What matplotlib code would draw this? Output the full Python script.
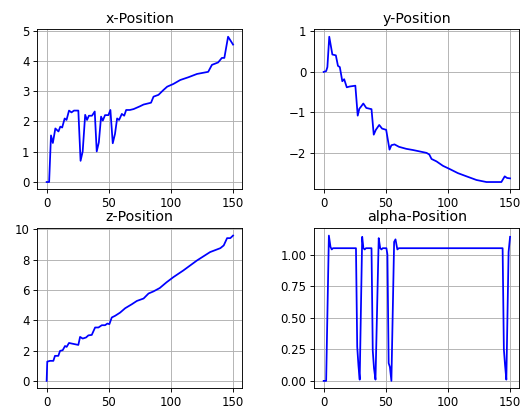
"""
plot.py

Four-panel trajectory figure: x-, y-, z- and alpha-position over time step.
"""

import matplotlib
matplotlib.use('Agg')
import matplotlib.pyplot as plt
import matplotlib.ticker as ticker


# ── data (breakpoints) ───────────────────────────────────────────────────────
x_t = [0, 2, 3.5, 5, 7, 9.5, 11, 12.5, 14.5, 16, 18, 20, 22, 25.5, 27.3, 29,
       31, 32.5, 34, 36.5, 38.7, 40.3, 42, 43.8, 45.2, 47, 49.7, 51.3, 53.2,
       55, 56.7, 58.3, 60.5, 62.4, 64, 67, 70, 75, 78, 84, 86, 90, 94, 97,
       102, 107.5, 114, 121, 130, 133, 138, 141, 143, 146, 150]
x_pos = [0, 0, 1.54, 1.29, 1.77, 1.67, 1.83, 1.8, 2.1, 2.05, 2.36, 2.3, 2.36,
         2.36, 0.7, 1.01, 2.22, 2.05, 2.19, 2.19, 2.33, 1.01, 1.31, 2.16, 2.03,
         2.21, 2.21, 2.38, 1.28, 1.59, 2.1, 2.05, 2.25, 2.19, 2.38, 2.38, 2.41,
         2.5, 2.56, 2.62, 2.82, 2.88, 3.04, 3.15, 3.24, 3.37, 3.46, 3.57, 3.64,
         3.87, 3.95, 4.1, 4.1, 4.8, 4.54]

y_t = [0, 2, 3, 4.5, 7, 9.8, 11.5, 13, 15, 16.5, 18.6, 21, 25.5, 27.4, 28.7,
       30, 31.9, 34.3, 38.5, 40.3, 42, 44.7, 47, 50.3, 53, 54.5, 57, 60.6,
       66.5, 72, 82.8, 85, 86.8, 90.8, 96, 101.5, 108, 115, 123, 131, 143,
       145.7, 147.6, 150]
y_pos = [0, 0.02, 0.12, 0.87, 0.43, 0.41, 0.15, 0.12, -0.23, -0.18, -0.38,
         -0.36, -0.34, -1.08, -0.91, -0.86, -0.78, -0.89, -0.92, -1.55, -1.43,
         -1.31, -1.4, -1.43, -1.92, -1.81, -1.79, -1.85, -1.9, -1.93, -2.0,
         -2.04, -2.15, -2.21, -2.32, -2.4, -2.5, -2.58, -2.67, -2.72, -2.72,
         -2.58, -2.62, -2.63]

z_t = [0, 0.5, 2.7, 5.4, 6.7, 9.4, 10.8, 12.9, 14.8, 16.1, 18, 20.2, 25.5,
       26.9, 29, 31.7, 33.6, 36.3, 39, 41.7, 44.4, 47, 48.9, 50.5, 52.4, 55.1,
       59.1, 63.2, 68.5, 72.6, 78, 82, 86, 91, 96.5, 102, 110, 121, 131.5,
       139.8, 142.5, 145.2, 147.8, 150]
z_pos = [0, 1.27, 1.32, 1.32, 1.65, 1.65, 1.98, 2.02, 2.3, 2.24, 2.5, 2.46,
         2.37, 2.9, 2.79, 2.86, 3.0, 3.03, 3.52, 3.52, 3.67, 3.67, 3.78, 3.74,
         4.18, 4.29, 4.5, 4.79, 5.05, 5.27, 5.43, 5.76, 5.9, 6.12, 6.5, 6.84,
         7.28, 7.94, 8.49, 8.75, 8.93, 9.41, 9.41, 9.58]

a_t = [0, 2, 4.2, 5.5, 6.5, 7.5, 26, 27, 28, 29, 31, 32, 33, 34, 38.5, 39.5,
       40.5, 41.7, 44.3, 45.5, 46.5, 47.5, 50.5, 51.3, 52.3, 53.3, 54.5, 56.7,
       57.8, 59.3, 60.5, 144, 145, 146, 147, 148.8, 150]
a_pos = [0, 0, 1.15, 1.06, 1.04, 1.05, 1.05, 0.27, 0.12, 0.01, 1.14, 1.05,
         1.04, 1.05, 1.05, 0.24, 0.1, 0.01, 1.13, 1.05, 1.04, 1.05, 1.05, 1.0,
         0.14, 0.11, 0.0, 1.1, 1.12, 1.04, 1.05, 1.05, 0.25, 0.12, 0.01, 1.02,
         1.14]

titles = ['x-Position', 'y-Position', 'z-Position', 'alpha-Position']


# ── style: a touch larger than default to match the source render ────────────
plt.rcParams.update({
    'axes.titlesize':   12.5,
    'xtick.labelsize':  10.4,
    'ytick.labelsize':  10.4,
    'lines.linewidth':  1.55,
})


# ── figure ───────────────────────────────────────────────────────────────────
dpi = 522 / 6.4
fig, axes = plt.subplots(2, 2, figsize=(6.4, 409 / dpi), dpi=dpi)
fig.subplots_adjust(left=0.0715, right=0.995, bottom=0.051, top=0.928,
                    wspace=0.351, hspace=0.244)

series = [(x_t, x_pos), (y_t, y_pos), (z_t, z_pos), (a_t, a_pos)]
for ax, (t, v), title in zip(axes.flat, series, titles):
    ax.plot(t, v, 'b-')
    ax.set_title(title)
    ax.grid(True)

# alpha panel uses quarter steps, two decimals
axes[1, 1].yaxis.set_major_locator(ticker.MultipleLocator(0.25))
axes[1, 1].yaxis.set_major_formatter(ticker.FormatStrFormatter('%.2f'))

fig.savefig('out.png', dpi=dpi)
